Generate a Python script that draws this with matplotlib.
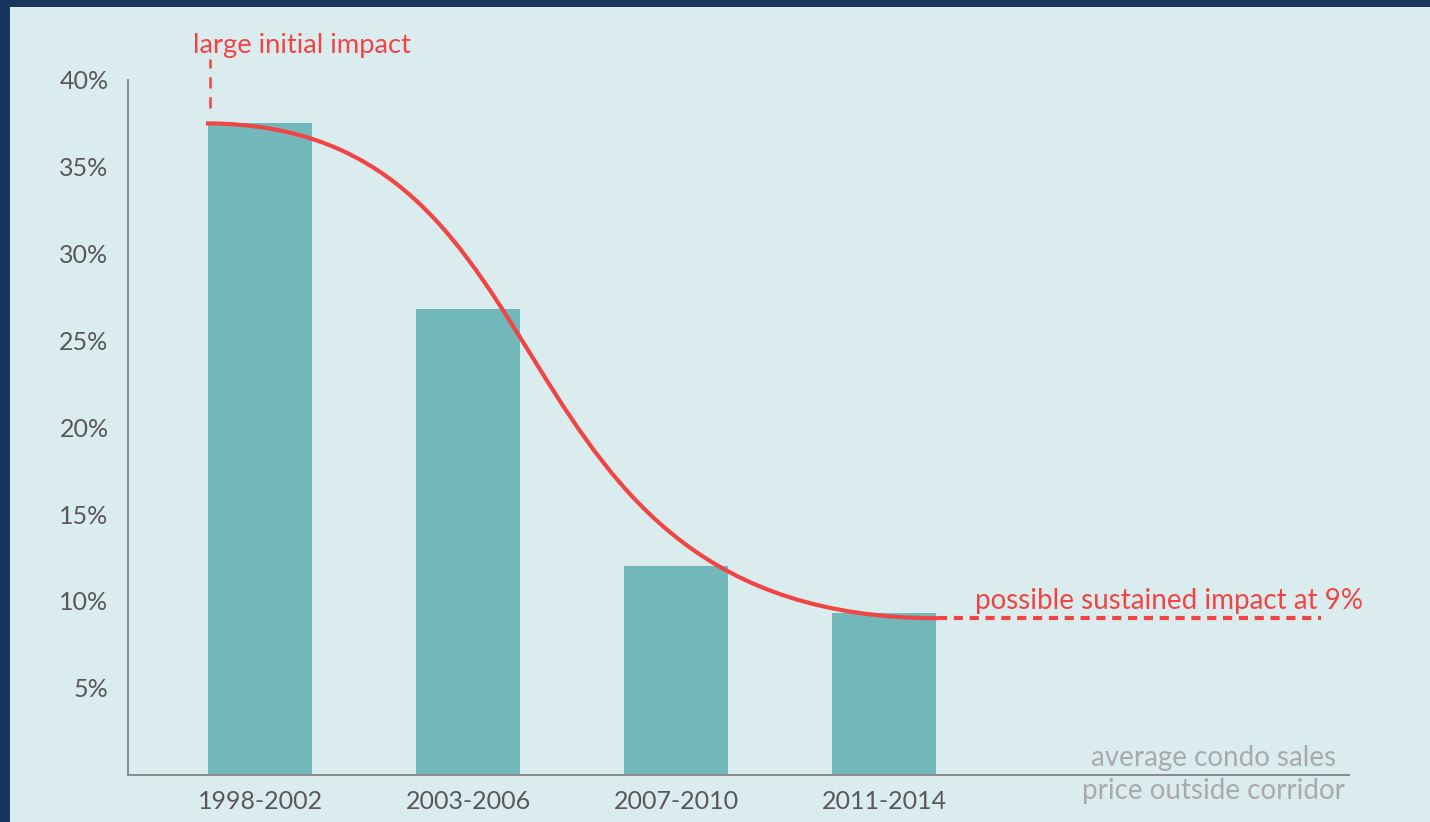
import matplotlib
matplotlib.use("Agg")
import matplotlib.pyplot as plt
from matplotlib.patches import Rectangle, PathPatch
from matplotlib.path import Path

# ----------------------------
# Data
# ----------------------------
periods = ["1998-2002", "2003-2006", "2007-2010", "2011-2014"]
impact_pct = [37.5, 26.8, 12.0, 9.3]

# trend curve as one cubic Bezier: start, two control points, end
# (x in bar-index units, y in %)
curve_x = [-0.26, 1.58, 1.02, 3.26]
curve_y = [37.5, 37.5, 9.0, 9.0]

sustained_pct = 9.0
sustained_end = 5.1
yticks = [5, 10, 15, 20, 25, 30, 35, 40]

# ----------------------------
# Style
# ----------------------------
NAVY = "#17365e"
BG = "#dbecee"
BAR = "#72b8bb"
RED = "#f04545"
AXIS = "#8a8a8a"
TICK_TXT = "#585858"
NOTE_TXT = "#a9aaab"

plt.rcParams["font.family"] = ["Lato", "DejaVu Sans"]

fig = plt.figure(figsize=(14.3, 8.22), dpi=100)
fig.patch.set_facecolor(NAVY)
fig.add_artist(Rectangle((10 / 1430, 0), 1, 1 - 7 / 822,
                         transform=fig.transFigure, facecolor=BG,
                         edgecolor="none", zorder=-5))

ax = fig.add_axes([128 / 1430, 1 - 774.5 / 822, (1349 - 128) / 1430, (774.5 - 80) / 822])
ax.set_facecolor("none")

x = list(range(len(periods)))
ax.bar(x, impact_pct, width=0.5, color=BAR, zorder=2)

curve = Path(list(zip(curve_x, curve_y)),
             [Path.MOVETO, Path.CURVE4, Path.CURVE4, Path.CURVE4])
ax.add_patch(PathPatch(curve, facecolor="none", edgecolor=RED, lw=3.0,
                       capstyle="butt", zorder=3))
ax.plot([curve_x[-1], sustained_end], [sustained_pct, sustained_pct], color=RED,
        lw=3.0, dashes=(2.2, 1.6), zorder=3)

# marker for the initial impact label
ax.plot([-0.24, -0.24], [38.4, 41.2], color=RED, lw=1.8, dashes=(4.5, 3.5),
        clip_on=False, zorder=3)

ax.text(-0.322, 42.0, "large initial impact", color=RED, fontsize=19.7,
        ha="left", va="center", clip_on=False)
ax.text(5.303, 10.0, "possible sustained impact at 9%", color=RED, fontsize=20,
        ha="right", va="center")

ax.text(0.889, 0.0238, "average condo sales", color=NOTE_TXT, fontsize=20,
        ha="center", va="center", transform=ax.transAxes)
ax.text(0.889, -0.0238, "price outside corridor", color=NOTE_TXT, fontsize=20,
        ha="center", va="center", transform=ax.transAxes, clip_on=False)

ax.set_xlim(-0.635, 5.236)
ax.set_ylim(0, 40)
ax.set_xticks(x)
ax.set_xticklabels(periods)
ax.set_yticks(yticks)
ax.set_yticklabels([f"{v}%" for v in yticks])
ax.tick_params(length=0, labelsize=18, labelcolor=TICK_TXT)
ax.tick_params(axis="x", pad=11)
ax.tick_params(axis="y", pad=14)

for side in ["top", "right"]:
    ax.spines[side].set_visible(False)
for side in ["left", "bottom"]:
    ax.spines[side].set_color(AXIS)
    ax.spines[side].set_linewidth(1.4)

fig.savefig("out.png", dpi=100, facecolor=fig.get_facecolor())
